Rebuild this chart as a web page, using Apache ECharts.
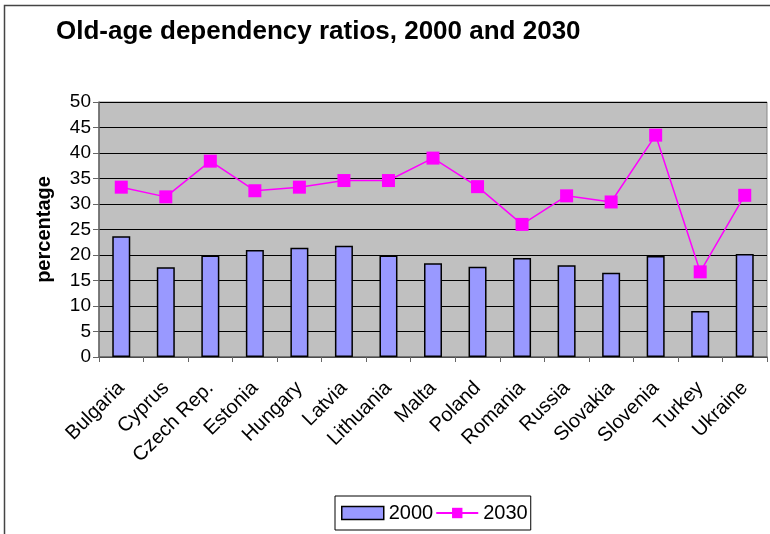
<!DOCTYPE html>
<html><head><meta charset="utf-8">
<script src="https://cdn.jsdelivr.net/npm/echarts@6/dist/echarts.min.js"></script>
<style>html,body{margin:0;padding:0;background:#fff}#c{width:770px;height:534px}</style>
</head><body><div id="c"></div>
<script>
const categories = ['Bulgaria','Cyprus','Czech Rep.','Estonia','Hungary','Latvia','Lithuania','Malta','Poland','Romania','Russia','Slovakia','Slovenia','Turkey','Ukraine'];
const values2000 = [23.7,17.6,19.9,21.0,21.4,21.8,19.9,18.4,17.7,19.4,18.0,16.5,19.8,9.0,20.2];
const values2030 = [33.3,31.4,38.4,32.6,33.3,34.6,34.6,39.0,33.4,26.0,31.6,30.4,43.5,16.7,31.7];
const yTicks = {min:0, max:50, interval:5};
const FONT = 'Liberation Sans, Arial, sans-serif';

const chart = echarts.init(document.getElementById('c'), null, {renderer:'canvas'});
chart.setOption({
  animation:false,
  backgroundColor:'#fff',
  textStyle:{fontFamily:FONT},
  title:{text:'Old-age dependency ratios, 2000 and 2030', left:51, top:14, padding:5,
    textStyle:{fontFamily:FONT, fontSize:26, fontWeight:'bold', color:'#000'}},
  graphic:[{type:'rect', shape:{x:4.5, y:5.5, width:900, height:700}, style:{fill:null, stroke:'#444', lineWidth:1.5}, z:-10}],
  legend:{left:335, top:496, orient:'horizontal', borderColor:'#000', borderWidth:1, padding:[7,3,7,6],
    itemWidth:42, itemHeight:13, itemGap:2, textStyle:{fontFamily:FONT, fontSize:20, color:'#000'},
    data:[{name:'2000', icon:'rect', itemStyle:{borderColor:'#000', borderWidth:1.5}}, {name:'2030'}]},
  grid:{left:99, right:3, top:102, bottom:177, show:true, backgroundColor:'#C0C0C0', borderColor:'#888', borderWidth:1},
  xAxis:{type:'category', data:categories, boundaryGap:true,
    axisLine:{lineStyle:{color:'#666', width:1.5}},
    axisTick:{show:true, length:5, lineStyle:{color:'#666'}},
    axisLabel:{rotate:45, interval:0, margin:28, fontFamily:FONT, fontSize:20, color:'#000'}},
  yAxis:{type:'value', min:yTicks.min, max:yTicks.max, interval:yTicks.interval,
    name:'percentage', nameLocation:'middle', nameGap:45, nameRotate:90,
    nameTextStyle:{fontFamily:FONT, fontSize:20, fontWeight:'bold', color:'#000'},
    axisLine:{show:true, lineStyle:{color:'#666', width:1.5}},
    axisTick:{show:true, length:6, lineStyle:{color:'#666'}},
    axisLabel:{margin:8, fontFamily:FONT, fontSize:19, color:'#000'},
    splitLine:{show:true, lineStyle:{color:'#000', width:1}}},
  series:[
    {name:'2000', type:'bar', data:values2000, barWidth:18,
      itemStyle:{color:'#9999FF', borderColor:'#000', borderWidth:1.5}},
    {name:'2030', type:'line', data:values2030, symbol:'rect', symbolSize:13,
      lineStyle:{color:'#FF00FF', width:1.5}, itemStyle:{color:'#FF00FF'}, z:5}
  ]
});
</script></body></html>
